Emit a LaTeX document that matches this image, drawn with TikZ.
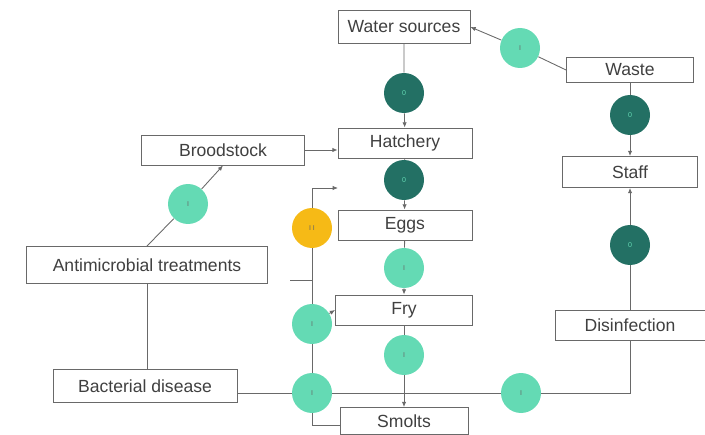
\documentclass[tikz,border=0pt]{standalone}
\usepackage{fontspec}
\setmainfont{Liberation Sans}
\usetikzlibrary{arrows.meta}
\definecolor{linegray}{RGB}{105,105,105}
\definecolor{lightteal}{RGB}{100,218,180}
\definecolor{darkteal}{RGB}{35,112,100}
\definecolor{amber}{RGB}{246,186,22}
\tikzset{
    box/.style = {draw = linegray, line width = 0.5pt, fill = white,
        minimum height = 0.6cm, inner sep = 1pt,
        font = \fontsize{10}{12}\selectfont, text = black!75},
    dot/.style = {circle, minimum size = 0.8cm, inner sep = 0pt,
        font = \fontsize{4}{4}\selectfont},
    lightdot/.style = {dot, fill = lightteal, text = black!60},
    darkdot/.style = {dot, fill = darkteal, text = lightteal},
    yellowdot/.style = {dot, fill = amber, text = black!60},
    link/.style = {draw = linegray, line width = 0.5pt},
    arrowlink/.style = {link, -{Latex[length=3pt,width=2.5pt]}}
}
\begin{document}
\begin{tikzpicture}[x=0.02cm, y=-0.02cm]
    \useasboundingbox (0,0) rectangle (705,435);
    % boxes
    \node[box, minimum width=2.64cm, minimum height=0.66cm] (water) at (404,27) {Water sources};
    \node[box, minimum width=2.54cm, minimum height=0.5cm] (waste) at (630,70) {Waste};
    \node[box, minimum width=2.7cm, minimum height=0.62cm] (staff) at (630,172) {Staff};
    \node[box, minimum width=2.68cm] (hatch) at (405,143) {Hatchery};
    \node[box, minimum width=3.26cm] (brood) at (223,150) {Broodstock};
    \node[box, minimum width=2.68cm] (eggs) at (405,225) {Eggs};
    \node[box, minimum width=4.82cm, minimum height=0.74cm] (anti) at (147,265) {Antimicrobial treatments};
    \node[box, minimum width=2.74cm] (fry) at (404,310) {Fry};
    \node[box, minimum width=3.0cm] (disinf) at (630,325) {Disinfection};
    \node[box, minimum width=3.68cm, minimum height=0.66cm] (bact) at (145,386) {Bacterial disease};
    \node[box, minimum width=2.56cm, minimum height=0.54cm] (smolts) at (404,421) {Smolts};
    % circles
    \node[lightdot] (cwaste) at (520,48) {I};
    \node[darkdot] (cwater) at (404,93) {0};
    \node[darkdot] (cstaff) at (630,115) {0};
    \node[lightdot] (canti) at (188,204) {I};
    \node[darkdot] (chatch) at (404,180) {0};
    \node[yellowdot] (cyel) at (312,228) {I I};
    \node[lightdot] (ceggs) at (404,268) {I};
    \node[lightdot] (cfry) at (312,324) {I};
    \node[lightdot] (csmolt) at (404,355) {I};
    \node[lightdot] (cbact) at (312,393) {I};
    \node[lightdot] (cdis) at (521,393) {I};
    \node[darkdot] (cdisup) at (630,245) {0};
    \coordinate (ltop) at (312,188);
    \coordinate (ltip) at (338,188);
    \coordinate (lbot) at (312,425);
    \coordinate (stub) at (290,280);
    % connectors
    \draw[arrowlink] (waste.west) -- (cwaste) -- (water.east);
    \draw[arrowlink] (water) -- (cwater) -- (hatch);
    \draw[arrowlink] (waste) -- (cstaff) -- (staff);
    \draw[arrowlink] (disinf) -- (cdisup) -- (staff);
    \draw[arrowlink] (brood.east) -- (brood.east -| hatch.west);
    \draw[arrowlink] (anti.north) -- (canti) -- (brood.south);
    \draw[arrowlink] (hatch) -- (chatch) -- (eggs);
    \draw[arrowlink] (eggs) -- (ceggs) -- (fry);
    \draw[arrowlink] (fry) -- (csmolt) -- (smolts);
    \draw[link] (anti.south) -- (anti.south |- bact.north);
    \draw[link] (bact.east |- cdis) -- (cbact) -- (cdis) -- (cdis -| disinf.south) -- (disinf.south);
    \draw[arrowlink] (lbot -| smolts.west) -- (lbot) -- (cbact) -- (cfry) -- (cyel) -- (ltop) -- (ltip);
    \draw[arrowlink] (cfry) -- (fry.west);
    \draw[link] (stub) -- (stub -| ltop);
\end{tikzpicture}
\end{document}
